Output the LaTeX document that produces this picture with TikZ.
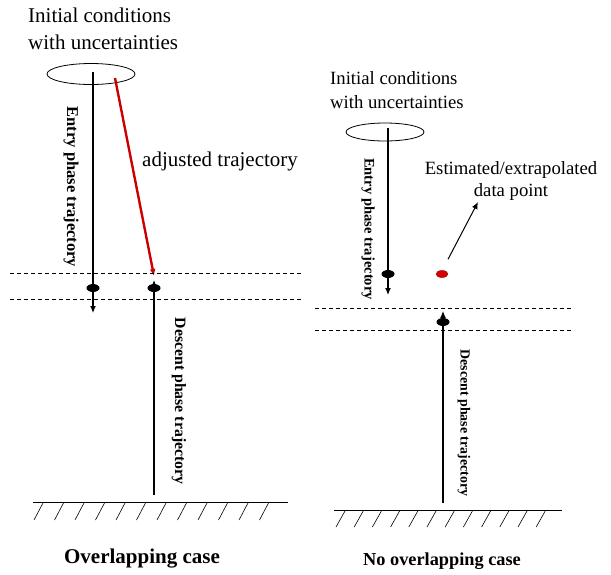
\documentclass[tikz,border=0pt]{standalone}
\usepackage{fontspec}
\setmainfont{Liberation Serif}
\usetikzlibrary{arrows.meta,shapes.geometric}

\begin{document}
\begin{tikzpicture}[x=1pt, y=-1pt, >={Latex[length=7pt,width=6pt]},
	every node/.style={inner sep=0pt},
	icring/.style={draw, ellipse, line width=0.8pt},
	blob/.style={ellipse, fill=black, minimum width=13pt, minimum height=8pt},
	track/.style={->, line width=1.2pt},
	level/.style={dash pattern=on 4pt off 3pt, line width=0.9pt},
	hatch/.style={line width=0.6pt},
	phasetext/.style={rotate=-90, font=\bfseries\fontsize{#1}{#1}\selectfont}]
	\useasboundingbox (0,0) rectangle (611,574);
	\node[align=left, anchor=west, font=\rmfamily\fontsize{21}{27}\selectfont] (icTextL) at (28,29) {Initial conditions\\with uncertainties};
	\node[icring, minimum width=88pt, minimum height=21pt] (icL) at (91,74) {};
	\coordinate (entryTopL) at (93,72);
	\coordinate (entryEndL) at (93,313);
	\coordinate (adjTop) at (115,78);
	\coordinate (adjEnd) at (154,276);
	\coordinate (descBotL) at (154,495);
	\coordinate (descEndL) at (154,280);
	\draw[track] (entryTopL) -- (entryEndL);
	\draw[->, red!80!black, line width=2.4pt] (adjTop) -- (adjEnd);
	\draw[track] (descBotL) -- (descEndL);
	\node[blob] (dotEntryL) at (93,288) {};
	\node[blob] (dotDescL) at (154,288) {};
	\draw[level] (10,273) -- (302,273);
	\draw[level] (10,299) -- (302,299);
	\node[phasetext=16.5] (entryTextL) at (71,187) {Entry phase trajectory};
	\node[anchor=west, font=\rmfamily\fontsize{21}{25}\selectfont] (adjText) at (142,161) {adjusted trajectory};
	\node[phasetext=15.8] (descTextL) at (179,401) {Descent phase trajectory};
	\draw[line width=0.9pt] (33,502) -- (288,502);
	\foreach \i in {0,...,11}
		\draw[hatch] ({43+20.5*\i},503) -- ++(-9,17);
	\node[font=\bfseries\fontsize{21}{25}\selectfont] (caseL) at (142,559) {Overlapping case};
	\node[align=left, anchor=west, font=\rmfamily\fontsize{18.7}{24}\selectfont] (icTextR) at (330,90) {Initial conditions\\with uncertainties};
	\node[icring, minimum width=78pt, minimum height=18pt] (icR) at (385,132) {};
	\coordinate (entryTopR) at (388,128);
	\coordinate (entryEndR) at (388,295);
	\coordinate (descBotR) at (443,503);
	\coordinate (descEndR) at (443,311);
	\draw[track] (entryTopR) -- (entryEndR);
	\draw[track] (descBotR) -- (descEndR);
	\node[blob] (dotEntryR) at (388,274) {};
	\node[blob, fill=red!85!black, draw=red!50!black, line width=0.4pt, minimum width=12pt, minimum height=7pt] (dotEst) at (442,274) {};
	\node[blob] (dotDescR) at (443,322) {};
	\node[align=center, font=\rmfamily\fontsize{18.7}{22}\selectfont] (estText) at (511,181) {Estimated/extrapolated\\data point};
	\draw[->, line width=1pt] (dotEst.north) ++(6,-11) coordinate (estTail) -- (478,202) coordinate (estHead);
	\draw[level] (315,308) -- (573,308);
	\draw[level] (315,330) -- (573,330);
	\node[phasetext=14.6] (entryTextR) at (368,229) {Entry phase trajectory};
	\node[phasetext=13.9] (descTextR) at (464,423) {Descent phase trajectory};
	\draw[line width=0.9pt] (334,510) -- (562,510);
	\foreach \i in {0,...,11}
		\draw[hatch] ({345+18.2*\i},511) -- ++(-9,16);
	\node[font=\bfseries\fontsize{18.3}{22}\selectfont] (caseR) at (442,561) {No overlapping case};
\end{tikzpicture}
\end{document}
